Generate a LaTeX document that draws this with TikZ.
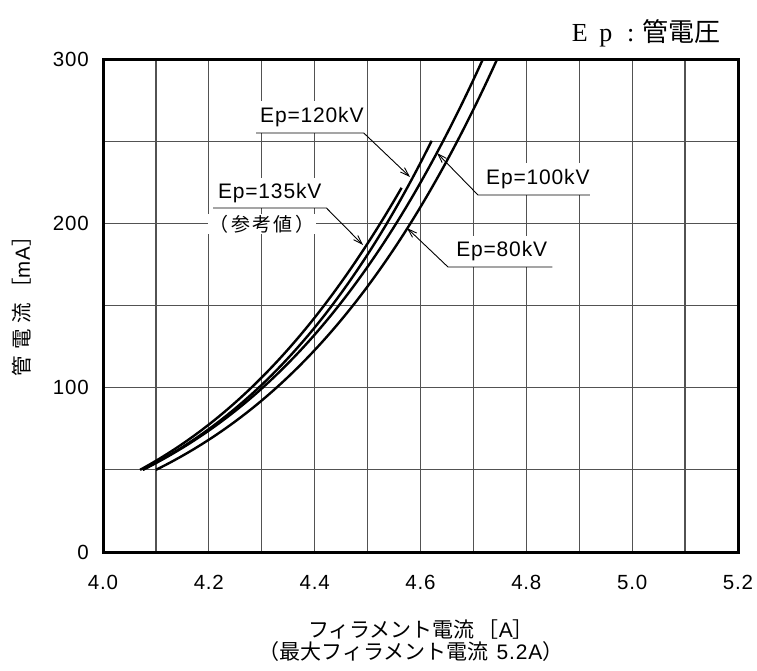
\documentclass[tikz,border=0pt]{standalone}
\usepackage{fontspec}
\setmainfont{Liberation Sans}[LetterSpace=4]
\newfontfamily\jp{Noto Sans CJK JP}
\newfontfamily\jpsp{Noto Sans CJK JP}[LetterSpace=12]
\newfontfamily\serifm{Liberation Serif}
\usetikzlibrary{arrows.meta}
\begin{document}
\begin{tikzpicture}[x=1pt,y=-1pt,
  gridline/.style={line width=1.2pt, black!68},
  frameline/.style={line width=3pt},
  curveline/.style={line width=2.4pt},
  leader/.style={line width=0.9pt},
  leadarrow/.style={leader, -{Straight Barb[length=9pt,width=6pt]}},
  lab/.style={fill=white, inner sep=0pt, font=\fontsize{21}{21}\selectfont},
  ticklab/.style={font=\fontsize{20.5}{20.5}\selectfont, inner sep=0pt}]
\useasboundingbox (0,0) rectangle (757,670);
% grid
\foreach \k in {1,...,11} \draw[gridline] ({103+\k*52.917},59) -- ({103+\k*52.917},552);
\foreach \k in {1,...,5} \draw[gridline] (103,{552-\k*82.17}) -- (738,{552-\k*82.17});
% label boxes
\node[lab, minimum width=107pt, minimum height=32pt, anchor=south west] (l120) at (256,133) {\hspace{4pt}Ep=120kV};
\node[lab, minimum width=113pt, minimum height=30pt, anchor=south west] (l135) at (213,208) {Ep=135kV};
\node[lab, inner xsep=2pt, inner ysep=1pt, font=\jpsp\fontsize{19}{19}\selectfont] (ref) at (262,224) {（参考値）};
\node[lab, minimum width=110pt, minimum height=32pt, anchor=south west] (l100) at (478,195) {\hspace{8pt}Ep=100kV};
\node[lab, minimum width=104pt, minimum height=31pt, anchor=south west] (l80) at (448,267) {\hspace{3pt}Ep=80kV};
% curves
\draw[curveline] plot[domain=4.1:4.745, samples=80, smooth, variable=\t]
  ({103+(\t-4)*529.17}, {552-1.64333*exp(3.912+3.187*(\t-4.1)-0.634*(\t-4.1)^2)});
\draw[curveline] plot[domain=4.075:4.718, samples=80, smooth, variable=\t]
  ({103+(\t-4)*529.17}, {552-1.64333*exp(3.912+3.205*(\t-4.075)-0.651*(\t-4.075)^2)});
\draw[curveline] plot[domain=4.075:4.622, samples=80, smooth, variable=\t]
  ({103+(\t-4)*529.17}, {552-1.64333*exp(3.912+3.304*(\t-4.075)-0.65*(\t-4.075)^2)});
\draw[curveline] plot[domain=4.07:4.565, samples=80, smooth, variable=\t]
  ({103+(\t-4)*529.17}, {552-1.64333*exp(3.912+3.507*(\t-4.07)-1.0*(\t-4.07)^2)});
% leader targets
\coordinate (t120) at (410,177);
\coordinate (t135) at (363,245);
\coordinate (t100) at (437,153);
\coordinate (t80) at (407,228);
\draw[leadarrow] (l120.south west) -- (l120.south east) -- (t120);
\draw[leadarrow] (l135.south west) -- (l135.south east) -- (t135);
\draw[leadarrow] (l100.south east) -- (l100.south west) -- (t100);
\draw[leadarrow] (l80.south east) -- (l80.south west) -- (t80);
% frame
\draw[frameline] (103,59) rectangle (738,552);
% tick labels
\foreach \v/\k in {0/0,100/2,200/4,300/6}
  \node[ticklab, anchor=east] at (89,{552-\k*82.17}) {\v};
\foreach \v [count=\k from 0] in {4.0,4.2,4.4,4.6,4.8,5.0,5.2}
  \node[ticklab] at ({103+\k*105.83},582) {\v};
% axis titles
\node[inner sep=0pt, rotate=90, font=\fontsize{20.5}{20.5}\selectfont] (ytitle) at (22,301)
  {{\jp 管\hspace{6pt}電\hspace{6pt}流\hspace{4pt}［}mA{\jp ］}};
\node[inner sep=0pt, font=\fontsize{21}{21}\selectfont] (xtitle1) at (421,630)
  {{\jp フィラメント電流\hspace{3pt}［}A{\jp ］}};
\node[inner sep=0pt, font=\fontsize{21}{21}\selectfont] (xtitle2) at (411,652)
  {{\jp （最大フィラメント電流}\hspace{8pt}5.2A{\jp ）}};
% top title
\node[inner sep=0pt, anchor=east, font=\fontsize{26}{26}\selectfont] (title) at (721,33)
  {{\serifm\makebox[26pt]{E}\makebox[26pt]{p}\makebox[24pt]{:}}{\jp 管電圧}};
\end{tikzpicture}
\end{document}
